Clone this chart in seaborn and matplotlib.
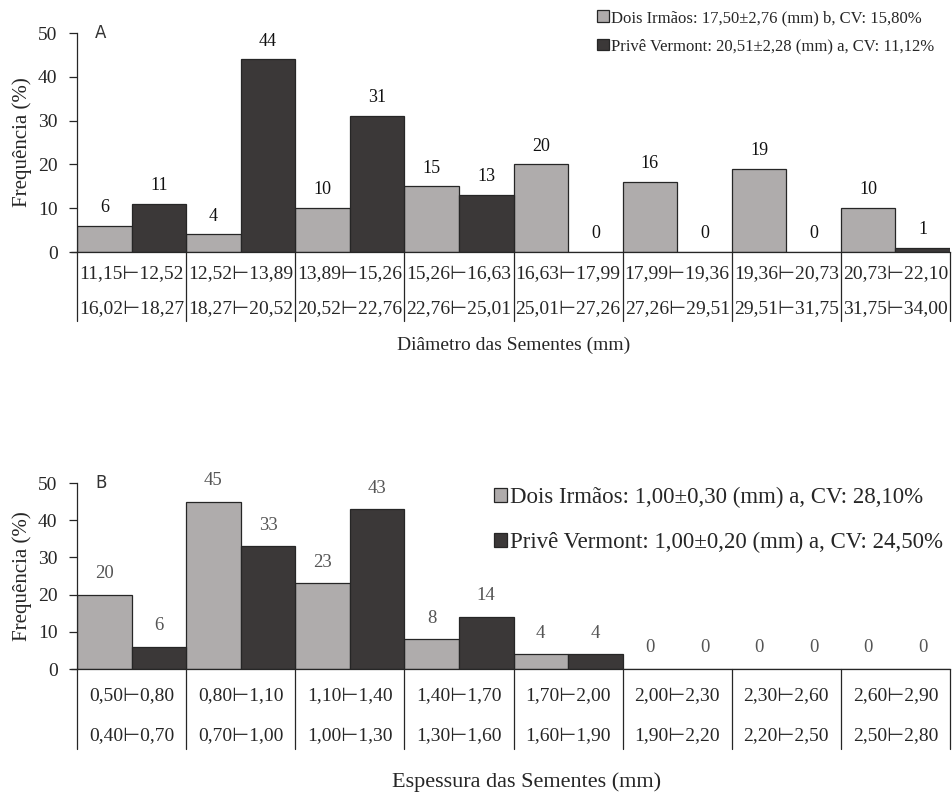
import matplotlib
matplotlib.use("Agg")
import matplotlib.pyplot as plt
from matplotlib.patches import Patch
import seaborn as sns
import pandas as pd

sns.set_style("white")
plt.rcParams["font.family"] = ["Liberation Serif", "DejaVu Sans"]

# Panel A: seed diameter classes (mm)
diam_dois = ["11,15⊢12,52", "12,52⊢13,89", "13,89⊢15,26", "15,26⊢16,63",
             "16,63⊢17,99", "17,99⊢19,36", "19,36⊢20,73", "20,73⊢22,10"]
diam_prive = ["16,02⊢18,27", "18,27⊢20,52", "20,52⊢22,76", "22,76⊢25,01",
              "25,01⊢27,26", "27,26⊢29,51", "29,51⊢31,75", "31,75⊢34,00"]
freq_diam_dois = [6, 4, 10, 15, 20, 16, 19, 10]
freq_diam_prive = [11, 44, 31, 13, 0, 0, 0, 1]
leg_diam = ["Dois Irmãos: 17,50±2,76 (mm) b, CV: 15,80%",
            "Privê Vermont: 20,51±2,28 (mm) a, CV: 11,12%"]

# Panel B: seed thickness classes (mm)
esp_dois = ["0,50⊢0,80", "0,80⊢1,10", "1,10⊢1,40", "1,40⊢1,70",
            "1,70⊢2,00", "2,00⊢2,30", "2,30⊢2,60", "2,60⊢2,90"]
esp_prive = ["0,40⊢0,70", "0,70⊢1,00", "1,00⊢1,30", "1,30⊢1,60",
             "1,60⊢1,90", "1,90⊢2,20", "2,20⊢2,50", "2,50⊢2,80"]
freq_esp_dois = [20, 45, 23, 8, 4, 0, 0, 0]
freq_esp_prive = [6, 33, 43, 14, 4, 0, 0, 0]
leg_esp = ["Dois Irmãos: 1,00±0,30 (mm) a, CV: 28,10%",
           "Privê Vermont: 1,00±0,20 (mm) a, CV: 24,50%"]

locais = ["Dois Irmãos", "Privê Vermont"]
cores = ["#afabab", "#3b3838"]
linha = "#262626"

W, H = 952, 793
fig = plt.figure(figsize=(W / 100, H / 100), dpi=100)


def painel(rect, row1, row2, v1, v2, letra, xlabel, xlabel_size, xlabel_x,
           legendas, leg_anchor, leg_size, leg_spacing, leg_handle,
           lab_color, lab_size, lab_pad, row_y, table_bottom, xlabel_y):
    ax = fig.add_axes(rect)
    df = pd.DataFrame({
        "classe": list(range(len(row1))) * 2,
        "freq": list(v1) + list(v2),
        "local": [locais[0]] * len(v1) + [locais[1]] * len(v2),
    })
    sns.barplot(data=df, x="classe", y="freq", hue="local", palette=cores,
                width=1.0, edgecolor=linha, linewidth=0.9, ax=ax,
                legend=False, errorbar=None)
    for cont in ax.containers:
        ax.bar_label(cont, fmt="%d", padding=lab_pad, fontsize=lab_size,
                     color=lab_color)
    n = len(row1)
    ax.set_xlim(-0.5, n - 0.5)
    ax.set_ylim(0, 50)
    ax.set_yticks(range(0, 51, 10))
    ax.tick_params(axis="y", labelsize=14, length=6, width=0.9,
                   color=linha, left=True, pad=8)
    ax.tick_params(axis="x", bottom=False, labelbottom=False)
    ax.set_xlabel("")
    ax.set_ylabel("Frequência (%)", fontsize=15)
    ax.yaxis.set_label_coords(-0.051, 0.5)
    for s in ["top", "right"]:
        ax.spines[s].set_visible(False)
    for s in ["left", "bottom"]:
        ax.spines[s].set_color(linha)
        ax.spines[s].set_linewidth(0.9)
    # baseline reaches slightly past the y axis, like the ticks
    ax.plot([-6 / 873, 0], [0, 0], transform=ax.transAxes, color=linha,
            lw=0.9, clip_on=False)

    # category table beneath the bars
    trans = ax.get_xaxis_transform()
    for b in range(n + 1):
        ax.plot([b - 0.5, b - 0.5], [0, table_bottom], transform=trans,
                color=linha, lw=0.9, clip_on=False)
    for i in range(n):
        for txt, yy in ((row1[i], row_y[0]), (row2[i], row_y[1])):
            ax.text(i, yy, txt, transform=trans, ha="center", va="center",
                    fontsize=14, family=["Liberation Serif", "DejaVu Sans"])
    ax.text(xlabel_x, xlabel_y, xlabel, transform=ax.transAxes, ha="center",
            va="center", fontsize=xlabel_size)
    ax.text(0.021, 1.0, letra, transform=ax.transAxes, ha="left",
            va="center", fontsize=12, family="DejaVu Sans", color="#333333")

    handles = [Patch(facecolor=c, edgecolor=linha, linewidth=0.9)
               for c in cores]
    ax.legend(handles, legendas, loc="upper left", bbox_to_anchor=leg_anchor,
              bbox_transform=fig.transFigure, frameon=False, fontsize=leg_size,
              handlelength=leg_handle, handleheight=leg_handle,
              handletextpad=0.15, labelspacing=leg_spacing, borderpad=0,
              borderaxespad=0)
    return ax


# panel A
yA0, yA50 = 252, 33
hA = yA0 - yA50
painel([77 / W, 1 - yA0 / H, 873 / W, hA / H],
       diam_dois, diam_prive, freq_diam_dois, freq_diam_prive,
       "A", "Diâmetro das Sementes (mm)", 14, 0.5, leg_diam,
       (597 / W, 1 - 10 / H), 12, 0.74, 0.7, "#111111", 13, 7,
       (-(275 - yA0) / hA, -(310 - yA0) / hA),
       -(321 - yA0) / hA, -(345 - yA0) / hA)

# panel B
yB0, yB50 = 669, 483
hB = yB0 - yB50
painel([77 / W, 1 - yB0 / H, 873 / W, hB / H],
       esp_dois, esp_prive, freq_esp_dois, freq_esp_prive,
       "B", "Espessura das Sementes (mm)", 16, 0.515, leg_esp,
       (494 / W, 1 - 487 / H), 16.5, 1.05, 0.55, "#555555", 13.5, 9,
       (-(697 - yB0) / hB, -(737 - yB0) / hB),
       -(749 - yB0) / hB, -(782 - yB0) / hB)

fig.savefig("out.png", dpi=100)
